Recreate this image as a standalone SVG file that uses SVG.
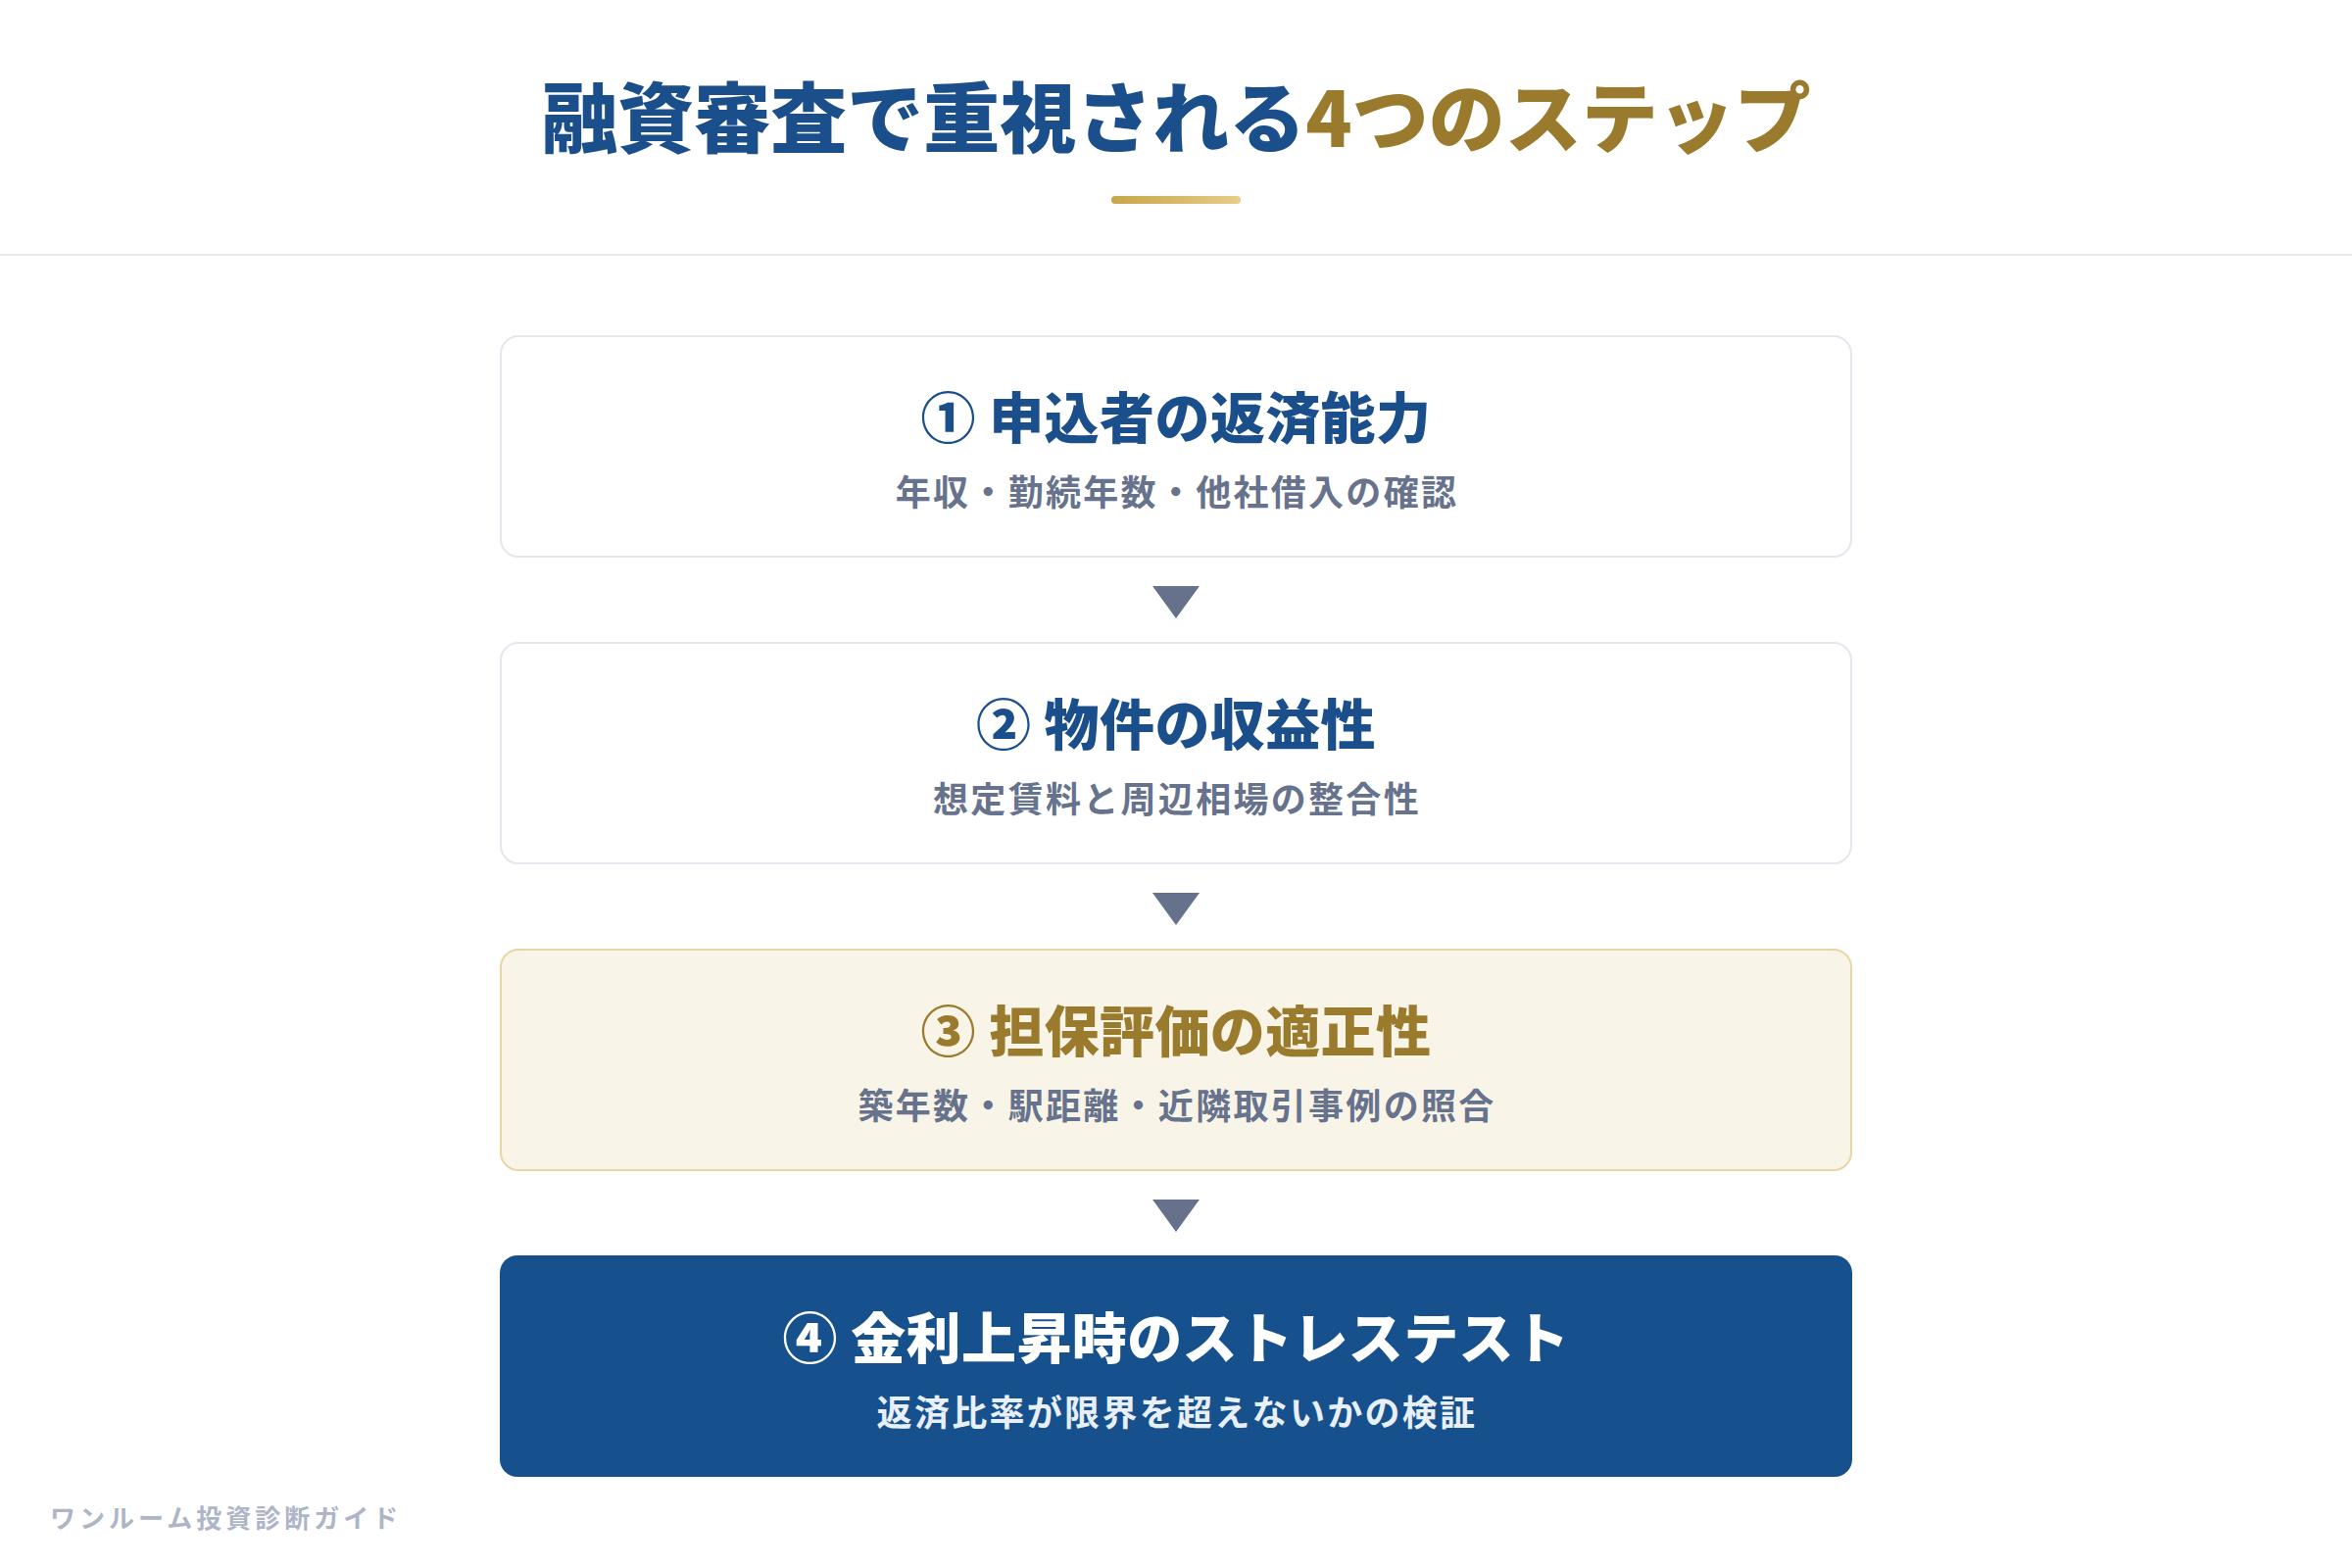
<svg xmlns="http://www.w3.org/2000/svg" width="2400" height="1600" viewBox="0 0 2400 1600">
  <defs>
    <linearGradient id="goldBar" x1="0" y1="0" x2="1" y2="0">
      <stop offset="0" stop-color="#C9A449"/>
      <stop offset="1" stop-color="#E7CD88"/>
    </linearGradient>
    <style>
      text { font-family: "Noto Sans CJK JP", "Noto Sans", sans-serif; text-anchor: middle; }
      .heading { font-size: 78px; font-weight: 900; }
      .blue { fill: #1A4F8B; }
      .gold { fill: #9A7A2C; }
      .step-title { font-size: 56px; font-weight: 900; letter-spacing: 0.4px; }
      .step-sub { font-size: 36px; font-weight: 700; letter-spacing: 2.3px; fill: #67728C; }
      .card { fill: #FFFFFF; stroke: #E3E7EE; stroke-width: 2; }
      .card-gold { fill: #F9F4E8; stroke: #E8D6A6; stroke-width: 2; }
      .card-blue { fill: #16518E; }
      .arrow { fill: #66718C; }
      .footer { font-size: 26px; font-weight: 700; fill: #ADB5C6; letter-spacing: 4px; text-anchor: start; }
    </style>
  </defs>

  <rect x="0" y="0" width="2400" height="1600" fill="#FFFFFF"/>

  <g id="header">
    <text x="1200" y="150" class="heading"><tspan class="blue">融資審査で重視される</tspan><tspan class="gold">4つのステップ</tspan></text>
    <rect x="1134" y="200" width="132" height="8" rx="4" fill="url(#goldBar)"/>
    <rect x="0" y="259" width="2400" height="2" fill="#E6EAEF"/>
  </g>

  <g id="step1">
    <rect x="511" y="343" width="1378" height="225" rx="18" class="card"/>
    <text x="1200" y="447" class="step-title blue">① 申込者の返済能力</text>
    <text x="1201" y="516" class="step-sub">年収・勤続年数・他社借入の確認</text>
  </g>

  <g id="step2">
    <rect x="511" y="656" width="1378" height="225" rx="18" class="card"/>
    <text x="1200" y="760" class="step-title blue">② 物件の収益性</text>
    <text x="1201" y="829" class="step-sub">想定賃料と周辺相場の整合性</text>
  </g>

  <g id="step3">
    <rect x="511" y="969" width="1378" height="225" rx="18" class="card-gold"/>
    <text x="1200" y="1073" class="step-title gold">③ 担保評価の適正性</text>
    <text x="1201" y="1142" class="step-sub">築年数・駅距離・近隣取引事例の照合</text>
  </g>

  <g id="step4">
    <rect x="510" y="1281" width="1380" height="226" rx="18" class="card-blue"/>
    <text x="1200" y="1386" class="step-title" fill="#FFFFFF">④ 金利上昇時のストレステスト</text>
    <text x="1201" y="1455" class="step-sub" style="fill:#E8EFF7">返済比率が限界を超えないかの検証</text>
  </g>

  <g id="connectors">
    <polygon points="1176,598 1224,598 1200,631" class="arrow"/>
    <polygon points="1176,911 1224,911 1200,944" class="arrow"/>
    <polygon points="1176,1224 1224,1224 1200,1257" class="arrow"/>
  </g>

  <g id="footer">
    <text x="51" y="1559" class="footer">ワンルーム投資診断ガイド</text>
  </g>
</svg>
